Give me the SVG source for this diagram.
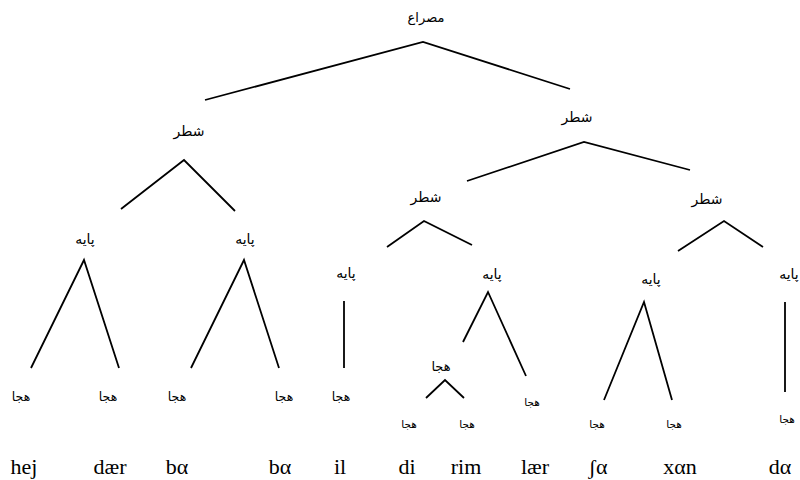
<svg xmlns="http://www.w3.org/2000/svg" width="800" height="480" viewBox="0 0 800 480">
<style>
.ar{font-family:"DejaVu Sans","Noto Sans",sans-serif;font-size:14px;fill:#000;text-anchor:middle;dominant-baseline:central}
.s{font-size:12.5px}
.m{font-size:13px}
.xs{font-size:10.5px}
.lat{font-family:"Liberation Serif","Times New Roman",serif;font-size:22px;fill:#000;text-anchor:middle}
.e{fill:none;stroke:#000;stroke-width:1.8;stroke-linejoin:miter}
</style>
<rect width="800" height="480" fill="#fff"/>
<g id="connectors">
<polyline class="e" points="205,100 423,42 570,89"/>
<polyline class="e" points="121,209 184,160 235,211"/>
<polyline class="e" points="467,181 584,142 690,170"/>
<polyline class="e" points="31,368 84,260 119,368"/>
<polyline class="e" points="191,368 244,260 279,368"/>
<line class="e" x1="344" y1="301" x2="344" y2="368"/>
<polyline class="e" points="387,247 424,221 472,245"/>
<polyline class="e" points="463,342 488,292 526,376"/>
<polyline class="e" points="426,398 445,380 464,398"/>
<polyline class="e" points="678,251 724,221 763,247"/>
<polyline class="e" points="604,400 644,302 672,400"/>
<line class="e" x1="785" y1="302" x2="785" y2="392"/>
</g>
<g id="n-mesra"><text class="ar m" x="426" y="17">مصراع</text></g>
<g id="n-shatr1"><text class="ar" x="189" y="131">شطر</text></g>
<g id="n-shatr2"><text class="ar" x="577" y="117">شطر</text></g>
<g id="n-shatr3"><text class="ar" x="426" y="197">شطر</text></g>
<g id="n-shatr4"><text class="ar" x="707" y="199">شطر</text></g>
<g id="n-paye1"><text class="ar" x="85" y="239">پایه</text></g>
<g id="n-paye2"><text class="ar" x="245" y="239">پایه</text></g>
<g id="n-paye3"><text class="ar" x="346" y="273">پایه</text></g>
<g id="n-paye4"><text class="ar" x="492" y="274">پایه</text></g>
<g id="n-paye5"><text class="ar" x="651" y="279">پایه</text></g>
<g id="n-paye6"><text class="ar" x="789" y="274">پایه</text></g>
<g id="n-h1"><text class="ar s" x="21" y="396">هجا</text></g>
<g id="n-h2"><text class="ar s" x="108" y="396">هجا</text></g>
<g id="n-h3"><text class="ar s" x="177" y="396">هجا</text></g>
<g id="n-h4"><text class="ar s" x="284" y="396">هجا</text></g>
<g id="n-h5"><text class="ar s" x="341" y="396">هجا</text></g>
<g id="n-h6"><text class="ar m" x="441" y="366">هجا</text></g>
<g id="n-h7"><text class="ar xs" x="409" y="424">هجا</text></g>
<g id="n-h8"><text class="ar xs" x="467" y="424">هجا</text></g>
<g id="n-h9"><text class="ar xs" x="532" y="402">هجا</text></g>
<g id="n-h10"><text class="ar xs" x="597" y="424">هجا</text></g>
<g id="n-h11"><text class="ar xs" x="674" y="424">هجا</text></g>
<g id="n-h12"><text class="ar xs" x="787" y="419">هجا</text></g>
<g id="syllables">
<text class="lat" x="24" y="474">hej</text>
<text class="lat" x="110" y="474">dær</text>
<text class="lat" x="177" y="474">bα</text>
<text class="lat" x="280" y="474">bα</text>
<text class="lat" x="340" y="474">il</text>
<text class="lat" x="407" y="474">di</text>
<text class="lat" x="466" y="474">rim</text>
<text class="lat" x="535" y="474">lær</text>
<text class="lat" x="598" y="474">ʃα</text>
<text class="lat" x="680" y="474">xαn</text>
<text class="lat" x="780" y="474">dα</text>
</g>
</svg>
